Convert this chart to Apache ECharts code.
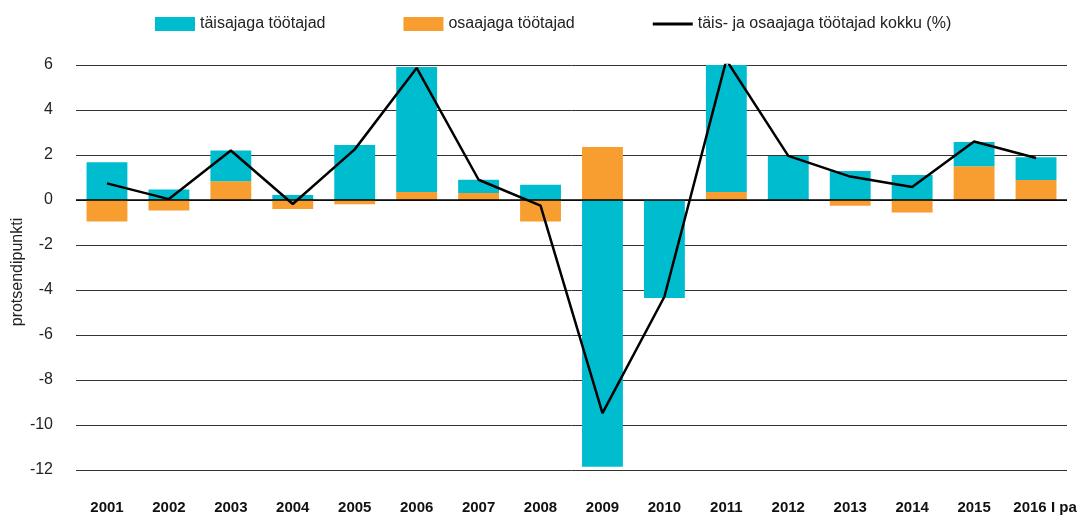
<!DOCTYPE html>
<html>
<head>
<meta charset="utf-8">
<script src="https://cdn.jsdelivr.net/npm/echarts@6/dist/echarts.min.js"></script>
<style>
  html, body { margin: 0; padding: 0; background: #fff; }
  #chart { width: 1080px; height: 516px; }
</style>
</head>
<body>
<div id="chart"></div>
<script>
// aastad
var years = ['2001', '2002', '2003', '2004', '2005', '2006', '2007', '2008',
    '2009', '2010', '2011', '2012', '2013', '2014', '2015', '2016 I pa'];
// täisajaga töötajad
var fullTime = [1.68, 0.47, 1.37, 0.22, 2.44, 5.55, 0.59, 0.68,
    -11.85, -4.36, 5.86, 1.96, 1.29, 1.11, 1.08, 1.01];
// osaajaga töötajad
var partTime = [-0.95, -0.47, 0.83, -0.4, -0.19, 0.36, 0.31, -0.95,
    2.36, 0, 0.36, 0, -0.25, -0.55, 1.5, 0.89];
// kokku
var total = [0.74, 0.04, 2.2, -0.18, 2.25, 5.87, 0.9, -0.25,
    -9.47, -4.3, 6.22, 1.96, 1.04, 0.58, 2.6, 1.87];

var names = ['täisajaga töötajad', 'osaajaga töötajad', 'täis- ja osaajaga töötajad kokku (%)'];

var chart = echarts.init(document.getElementById('chart'));
var font = 'Liberation Sans, Arial, sans-serif';

var option = {
    animation: false,
    textStyle: { fontFamily: font },
    legend: {
        data: [
            { name: names[0], icon: 'rect' },
            { name: names[1], icon: 'rect' },
            { name: names[2], icon: 'path://M0,0 L13,0 L13,1 L0,1 Z' }
        ],
        top: 11,
        left: 150,
        itemWidth: 40,
        itemHeight: 14,
        itemGap: 78,
        textStyle: { fontSize: 16, color: '#222', fontFamily: font }
    },
    // y-telje nimi
    graphic: [{
        type: 'text',
        x: 18,
        y: 272,
        rotation: Math.PI / 2,
        style: {
            text: 'protsendipunkti',
            fontSize: 16,
            fontFamily: font,
            fill: '#222',
            align: 'center',
            verticalAlign: 'middle'
        }
    }],
    grid: {
        left: 76,
        right: 13,
        top: 65,
        bottom: 46,
        outerBoundsMode: 'none'
    },
    xAxis: {
        type: 'category',
        data: years,
        axisLine: { show: false },
        axisTick: { show: false },
        axisLabel: {
            interval: 0,
            margin: 30,
            fontSize: 15,
            fontWeight: 'bold',
            color: '#111',
            fontFamily: font,
            formatter: function (v) {
                return v === years[years.length - 1] ? '{last|' + v + '}' : v;
            },
            rich: {
                last: {
                    fontSize: 15,
                    fontWeight: 'bold',
                    color: '#111',
                    fontFamily: font,
                    padding: [0, 0, 0, 18]
                }
            }
        }
    },
    yAxis: {
        type: 'value',
        min: -12,
        max: 6,
        interval: 2,
        axisLine: { show: false },
        axisTick: { show: false },
        axisLabel: { margin: 23, fontSize: 16, color: '#222', fontFamily: font },
        splitLine: { lineStyle: { color: '#333', width: 1 } }
    },
    series: [
        {
            name: names[1],
            type: 'bar',
            stack: 'k',
            data: partTime,
            barCategoryGap: '34%',
            itemStyle: { color: '#f89e31' }
        },
        {
            name: names[0],
            type: 'bar',
            stack: 'k',
            data: fullTime,
            barCategoryGap: '34%',
            itemStyle: { color: '#00bccf' }
        },
        {
            name: names[2],
            type: 'line',
            data: total,
            symbol: 'none',
            z: 5,
            lineStyle: { color: '#000', width: 2.5 },
            itemStyle: { color: '#000' },
            markLine: {
                silent: true,
                symbol: 'none',
                label: { show: false },
                lineStyle: { color: '#000', width: 1.5, type: 'solid' },
                data: [{ yAxis: 0 }]
            }
        }
    ]
};

chart.setOption(option);
</script>
</body>
</html>
